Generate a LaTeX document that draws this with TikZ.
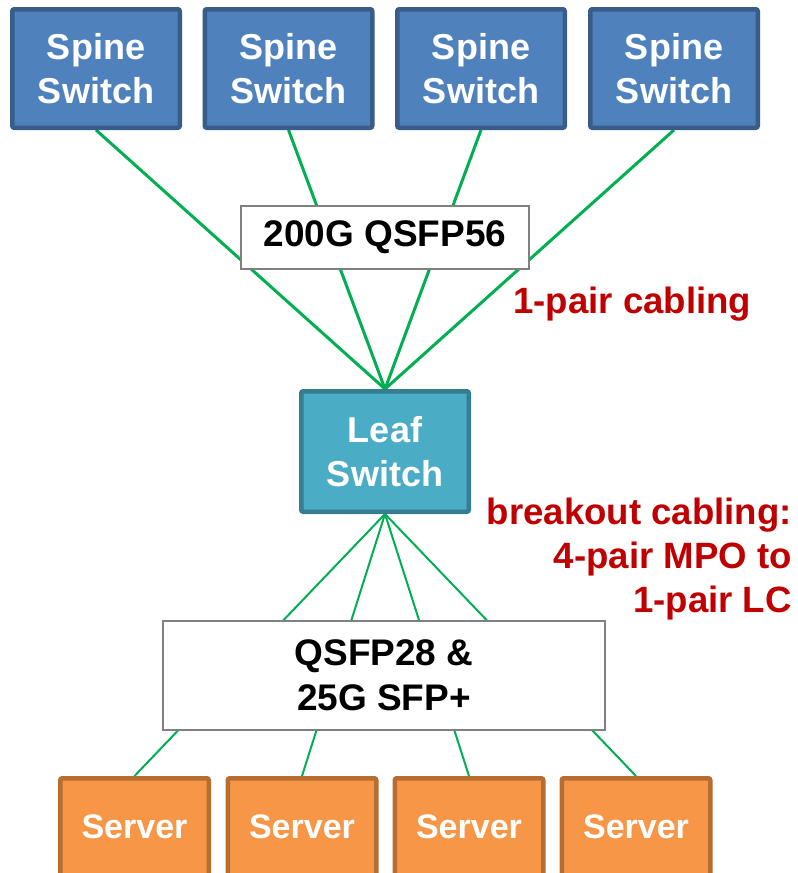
\documentclass[tikz,border=0pt]{standalone}
\usepackage{fontspec}
\setmainfont{Liberation Sans}
\usetikzlibrary{backgrounds}

\definecolor{spinefill}{HTML}{4F81BD}
\definecolor{spineedge}{HTML}{385D8A}
\definecolor{leaffill}{HTML}{4BACC6}
\definecolor{leafedge}{HTML}{357D91}
\definecolor{serverfill}{HTML}{F79646}
\definecolor{serveredge}{HTML}{B66D31}
\definecolor{cablegreen}{HTML}{00B050}
\definecolor{notered}{HTML}{C00000}
\definecolor{tagedge}{HTML}{808080}

\tikzset{
  devbox/.style={rectangle, rounded corners=2pt, line width=4.5pt,
    align=center, inner sep=0pt, text=white,
    font=\fontsize{36}{44}\selectfont\bfseries},
  spinebox/.style={devbox, fill=spinefill, draw=spineedge,
    minimum width=167.5pt, minimum height=118.5pt},
  leafbox/.style={devbox, fill=leaffill, draw=leafedge,
    minimum width=167.5pt, minimum height=120.5pt},
  serverbox/.style={devbox, fill=serverfill, draw=serveredge,
    minimum width=148.5pt, minimum height=97.5pt,
    font=\fontsize{34}{40}\selectfont\bfseries},
  tagbox/.style={rectangle, draw=tagedge, line width=2pt, fill=white,
    align=center, inner sep=0pt,
    font=\fontsize{37}{45}\selectfont\bfseries},
  uplink/.style={draw=cablegreen, line width=3pt},
  downlink/.style={draw=cablegreen, line width=2pt},
  note/.style={text=notered, inner sep=0pt,
    font=\fontsize{36.6}{44}\selectfont\bfseries}
}

\begin{document}
\begin{tikzpicture}[x=1pt, y=-1pt]
  \useasboundingbox (0,0) rectangle (798,873);

  % spine layer
  \node[spinebox] (s1) at (96,68.5)  {Spine\\Switch};
  \node[spinebox] (s2) at (288.5,68.5) {Spine\\Switch};
  \node[spinebox] (s3) at (481,68.5) {Spine\\Switch};
  \node[spinebox] (s4) at (674,68.5) {Spine\\Switch};

  % leaf switch
  \node[leafbox] (leaf) at (385,451.5) {Leaf\\Switch};

  % servers
  \node[serverbox] (v1) at (134.5,827) {Server};
  \node[serverbox] (v2) at (302,827)   {Server};
  \node[serverbox] (v3) at (469,827)   {Server};
  \node[serverbox] (v4) at (636,827)   {Server};

  % transceiver labels laid over the cables
  \node[tagbox, minimum width=288pt, minimum height=63pt] (qsfp56)
    at (385,237.5) {200G QSFP56};
  \node[tagbox, minimum width=442pt, minimum height=109pt] (qsfp28)
    at (384,675.5) {QSFP28 \&\\25G SFP+};

  % cable annotations
  \node[note, anchor=base west] (onepair) at (513,313) {1-pair cabling};
  \node[note, anchor=north east, align=right] (breakout) at (792,498)
    {breakout cabling:\\4-pair MPO to\\1-pair LC};

  % cables run behind the boxes
  \begin{scope}[on background layer]
    \foreach \s in {s1,s2,s3,s4}
      \draw[uplink] (\s.south) -- (leaf.north);
    \foreach \v in {v1,v2,v3,v4}
      \draw[downlink] (leaf.south) -- (\v.north);
  \end{scope}
\end{tikzpicture}
\end{document}
